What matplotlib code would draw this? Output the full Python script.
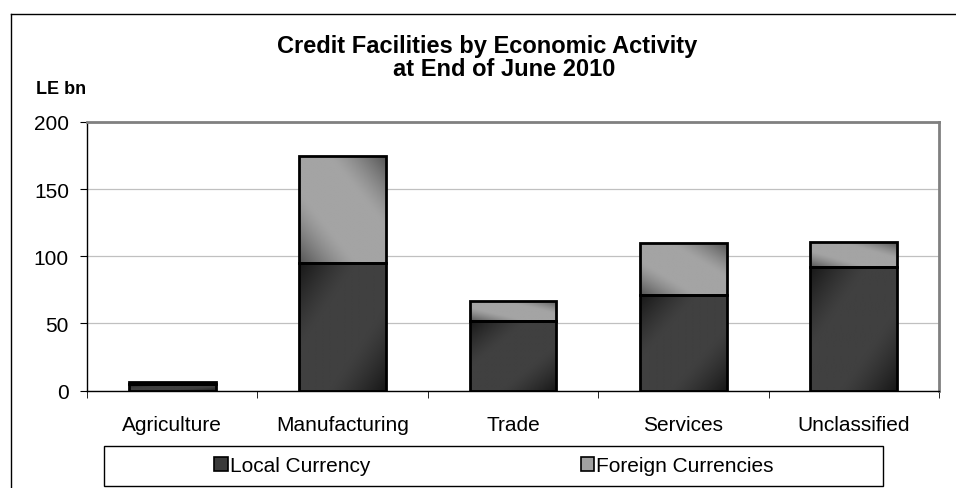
import matplotlib.pyplot as plt
import numpy as np
from matplotlib.patches import Rectangle
from matplotlib.lines import Line2D

plt.rcParams['font.family'] = ['Liberation Sans', 'DejaVu Sans']

categories = ['Agriculture', 'Manufacturing', 'Trade', 'Services', 'Unclassified']
local = [5, 95, 51.5, 71, 92]
foreign = [1.5, 80, 15, 38.5, 18.5]
series_names = ['Local Currency', 'Foreign Currencies']
yticks = [0, 50, 100, 150, 200]


def shade(d, light, dark):
    # plateau in the middle, darker towards both ends of the diagonal
    k = np.clip(np.maximum((0.33 - d) / 0.33, (d - 0.67) / 0.33), 0, 1)
    return light - (light - dark) * k ** 1.3


def gradient_bar(ax, x, bottom, height, width, light, dark, flip):
    ax.bar(x, height, width, bottom=bottom, color='none',
           edgecolor='black', linewidth=2, zorder=4)
    n = 60
    u, v = np.meshgrid(np.linspace(0, 1, n), np.linspace(1, 0, n))
    d = (u - v + 1) / 2 if flip else (u + v) / 2
    g = shade(d, light, dark)
    img = ax.imshow(np.dstack([g, g, g]), extent=[x - width / 2, x + width / 2, bottom, bottom + height],
                    aspect='auto', interpolation='bilinear', zorder=3)
    back = Rectangle((x - width / 2, bottom), width, height, transform=ax.transData)
    img.set_clip_path(back)


fig = plt.figure(figsize=(9.56, 4.89), dpi=100)
ax = fig.add_axes([87 / 956, 1 - 391.5 / 489, (939 - 87) / 956, (391.5 - 123) / 489])

x = np.arange(len(categories))
w = 0.51
for i in x:
    gradient_bar(ax, i, 0, local[i], w, 0x40 / 255, 0x18 / 255, True)
    gradient_bar(ax, i, local[i], foreign[i], w, 0xa4 / 255, 0x56 / 255, False)

ax.set_xlim(-0.5, len(categories) - 0.5)
ax.set_ylim(0, 200)
ax.set_yticks(yticks)
ax.set_xticks(x)
ax.set_xticklabels(categories, fontsize=15)
ax.set_xticks(np.arange(-0.5, len(categories)), minor=True)
ax.tick_params(axis='x', which='major', length=0, pad=17.5)
ax.tick_params(axis='x', which='minor', length=5, direction='out', color='black')
ax.tick_params(axis='y', length=5, direction='out', labelsize=15, pad=8)
ax.yaxis.grid(True, color='#c0c0c0', linewidth=0.9, zorder=0)
ax.set_axisbelow(True)
for side in ['left', 'bottom']:
    ax.spines[side].set_color('black')
    ax.spines[side].set_linewidth(1)
for side in ['top', 'right']:
    ax.spines[side].set_color('#808080')
    ax.spines[side].set_linewidth(2)

fig.text(487 / 956, 1 - 47 / 489, 'Credit Facilities by Economic Activity', ha='center', va='center',
         fontsize=17, fontweight='bold')
fig.text(504 / 956, 1 - 69 / 489, 'at End of June 2010', ha='center', va='center',
         fontsize=17, fontweight='bold')
fig.text(36 / 956, 1 - 90 / 489, 'LE bn', ha='left', va='center', fontsize=13, fontweight='bold')

# outer chart frame (left and top edges)
fig.add_artist(Line2D([11 / 956, 11 / 956], [0, 1 - 15 / 489], color='black', linewidth=1))
fig.add_artist(Line2D([11 / 956, 1], [1 - 15 / 489, 1 - 15 / 489], color='black', linewidth=1))

# legend box
fig.add_artist(Rectangle((104 / 956, 1 - 487 / 489), (883 - 104) / 956, 40 / 489,
                         transform=fig.transFigure, facecolor='white', edgecolor='black', linewidth=1))
handles = [Rectangle((0, 0), 1, 1, facecolor='#3a3a3a', edgecolor='black', linewidth=1.2),
           Rectangle((0, 0), 1, 1, facecolor='#a0a0a0', edgecolor='black', linewidth=1.2)]
fig.legend(handles, series_names, loc='center', bbox_to_anchor=(494 / 956, 1 - 467 / 489),
           ncol=2, frameon=False, fontsize=15, handlelength=0.65, handleheight=0.65,
           handletextpad=0.1, columnspacing=10.1)

fig.savefig('out.png', dpi=100)
